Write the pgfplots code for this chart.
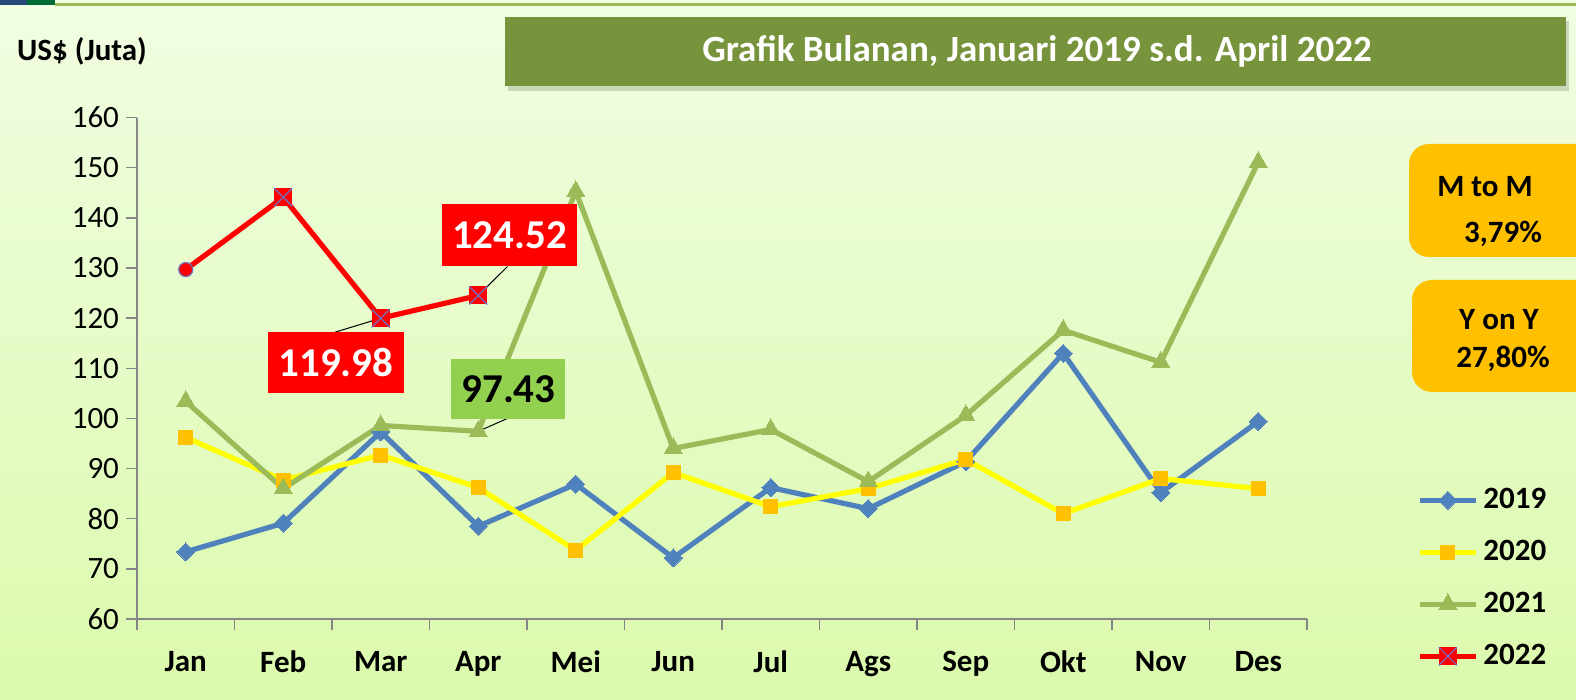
\documentclass[border=0pt]{standalone}
\usepackage{pgfplots}
\pgfplotsset{compat=1.18}
\usepackage{fontspec}
\setmainfont{Carlito}
\definecolor{c19}{RGB}{79,129,189}
\definecolor{c20line}{RGB}{255,255,0}
\definecolor{c20mark}{RGB}{255,192,0}
\definecolor{c21}{RGB}{155,187,89}
\definecolor{c22}{RGB}{255,0,0}
\definecolor{xblue}{RGB}{112,112,190}
\definecolor{titlegreen}{RGB}{119,147,60}
\definecolor{boxorange}{RGB}{255,192,0}
\definecolor{lblgreen}{RGB}{146,208,80}
\definecolor{axisgray}{RGB}{134,134,134}
\definecolor{bgtop}{RGB}{241,253,226}
\definecolor{bgbot}{RGB}{219,250,172}
\definecolor{logoblue}{RGB}{40,70,120}
\definecolor{logogreen}{RGB}{0,106,53}
\pgfdeclareplotmark{sqx}{%
  \pgfpathrectangle{\pgfqpoint{-\pgfplotmarksize}{-\pgfplotmarksize}}{\pgfqpoint{2\pgfplotmarksize}{2\pgfplotmarksize}}%
  \pgfsetfillcolor{c22}\pgfusepath{fill}%
  \pgfpathmoveto{\pgfqpoint{-\pgfplotmarksize}{-\pgfplotmarksize}}\pgfpathlineto{\pgfqpoint{\pgfplotmarksize}{\pgfplotmarksize}}%
  \pgfpathmoveto{\pgfqpoint{-\pgfplotmarksize}{\pgfplotmarksize}}\pgfpathlineto{\pgfqpoint{\pgfplotmarksize}{-\pgfplotmarksize}}%
  \pgfsetstrokecolor{xblue}\pgfsetlinewidth{0.6pt}\pgfusepath{stroke}}
\begin{document}
\begin{tikzpicture}
\begin{scope}[x=0.5pt,y=-0.5pt]
  \shade[top color=bgtop,bottom color=bgbot] (0,0) rectangle (1576,700);
  \fill[logoblue] (0,0) rectangle (27,5);
  \fill[logogreen] (27,0) rectangle (55,5);
  \fill[c21] (55,3) rectangle (1576,6);
  % title box
  \fill[black,opacity=0.15] (508,21) rectangle (1569,91);
  \fill[titlegreen] (505,17) rectangle (1566,86);
  \node[text=white,font=\fontsize{18.5}{22}\selectfont\bfseries] at (1037,51) {Grafik Bulanan, Januari 2019 s.d. April 2022};
  \node[font=\fontsize{15.5}{18}\selectfont\bfseries] at (82,51) {US\$ (Juta)};
  % info boxes
  \fill[boxorange,rounded corners=10pt] (1409,144) rectangle (1620,257);
  \node[font=\fontsize{15.5}{18}\selectfont\bfseries] at (1485,187) {M to M};
  \node[font=\fontsize{15.5}{18}\selectfont\bfseries] at (1503,234) {3,79\%};
  \fill[boxorange,rounded corners=10pt] (1412,280) rectangle (1620,392);
  \node[font=\fontsize{15.5}{18}\selectfont\bfseries] at (1499,320) {Y on Y};
  \node[font=\fontsize{15.5}{18}\selectfont\bfseries] at (1503,359) {27,80\%};
\end{scope}
\begin{axis}[
  at={(68.5pt,-309.5pt)}, anchor=south west,
  scale only axis, width=585pt, height=250.7pt,
  xmin=-0.5, xmax=11.5, ymin=60, ymax=160,
  axis lines*=left,
  axis line style={draw=axisgray, line width=0.75pt},
  ytick={60,70,...,160},
  xtick={-0.5,0.5,...,11.5}, x tick label as interval,
  xticklabels={Jan,Feb,Mar,Apr,Mei,Jun,Jul,Ags,Sep,Okt,Nov,Des},
  tick align=outside, major tick length=5.5pt,
  tick style={draw=axisgray, line width=0.75pt},
  yticklabel style={font=\fontsize{15.5}{18}\selectfont},
  xticklabel style={font=\fontsize{15.5}{18}\selectfont\bfseries, yshift=-7pt},
  /pgf/number format/assume math mode=true,
  clip=false,
  legend style={at={(1.094,0.2655)}, anchor=north west, draw=none, fill=none,
    inner sep=0pt, row sep=12pt, column sep=2.5pt,
    nodes={inner sep=0pt, text height=11pt, text depth=3pt},
    font=\fontsize{15.5}{18}\selectfont\bfseries},
  legend cell align=left,
  legend image code/.code={\draw[mark repeat=2,mark phase=2,#1] plot coordinates {(0pt,0pt) (14pt,0pt) (28pt,0pt)};},
]
\addlegendimage{c19, line width=2.5pt, mark=diamond*, mark size=4.5pt, mark options={fill=c19, draw=c19, line width=0pt, xscale=1.33}}
\addlegendentry{2019}
\addlegendimage{c20line, line width=2.5pt, mark=square*, mark size=3.5pt, mark options={fill=c20mark, draw=c20mark, line width=0pt}}
\addlegendentry{2020}
\addlegendimage{c21, line width=2.5pt, mark=triangle*, mark size=5.3pt, mark options={fill=c21, draw=c21, line width=0pt}}
\addlegendentry{2021}
\addlegendimage{c22, line width=2.5pt, mark=sqx, mark size=4.5pt}
\addlegendentry{2022}

\addplot[forget plot, c19, line width=2.6pt, mark=diamond*, mark size=4.5pt, mark options={fill=c19, draw=c19, line width=0pt, xscale=1.33}] coordinates {
(0,73.4) (1,79.1) (2,97.3) (3,78.5) (4,86.9) (5,72.2) (6,86.2) (7,82.0) (8,91.4) (9,113.0) (10,85.2) (11,99.4)};
\addplot[forget plot, c20line, line width=2.6pt, mark=square*, mark size=3.5pt, mark options={fill=c20mark, draw=c20mark, line width=0pt}] coordinates {
(0,96.2) (1,87.7) (2,92.7) (3,86.2) (4,73.7) (5,89.2) (6,82.4) (7,86.0) (8,91.8) (9,81.0) (10,88.0) (11,86.0)};
\addplot[forget plot, c21, line width=2.6pt, mark=triangle*, mark size=5.3pt, mark options={fill=c21, draw=c21, line width=0pt}] coordinates {
(0,103.4) (1,86.0) (2,98.6) (3,97.43) (4,145.3) (5,94.0) (6,97.8) (7,87.4) (8,100.6) (9,117.6) (10,111.2) (11,151.1)};
\addplot[forget plot, c22, line width=2.6pt, mark=sqx, mark size=4.5pt, mark indices={2,3,4}] coordinates {
(0,129.7) (1,144.1) (2,119.98) (3,124.52)};
\addplot[forget plot, only marks, mark=*, mark size=3.5pt, mark options={fill=c22, draw=xblue, line width=0.6pt}] coordinates {(0,129.7)};

% data labels
\draw[black, line width=0.5pt] (axis cs:3,124.52) -- (axis cs:3.30,130.3);
\node[fill=c22, text=white, font=\fontsize{20.5}{24}\selectfont\bfseries, minimum width=67.5pt, minimum height=31pt, inner sep=0pt] at (axis cs:3.32,136.5) {124.52};
\draw[black, line width=0.5pt] (axis cs:2,119.98) -- (axis cs:1.53,117.2);
\node[fill=c22, text=white, font=\fontsize{20.5}{24}\selectfont\bfseries, minimum width=68pt, minimum height=30.5pt, inner sep=0pt] at (axis cs:1.54,111.1) {119.98};
\draw[black, line width=0.5pt] (axis cs:3,97.43) -- (axis cs:3.30,100.0);
\node[fill=lblgreen, text=black, font=\fontsize{20.5}{24}\selectfont\bfseries, minimum width=57pt, minimum height=30pt, inner sep=0pt] at (axis cs:3.31,105.8) {97.43};
\end{axis}
\pgfresetboundingbox
\useasboundingbox (0,0) rectangle (788pt,-350pt);
\end{tikzpicture}
\end{document}
